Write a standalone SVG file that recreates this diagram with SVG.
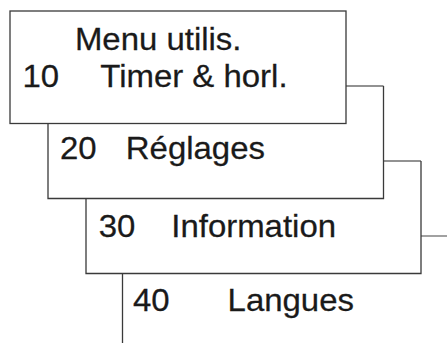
<svg xmlns="http://www.w3.org/2000/svg" width="447" height="345" viewBox="0 0 447 345">
  <style>
    .edge { fill: none; stroke: #3a3a3a; stroke-width: 1.3; }
    .step { fill: none; stroke: #6e6e6e; stroke-width: 1.3; }
    .t { font-family: "Liberation Sans", Arial, sans-serif; font-size: 30.5px; fill: #1a1a1a; stroke: #1a1a1a; stroke-width: 0.25; }
  </style>
  <rect width="447" height="345" fill="#fff"/>
  <g id="card-40">
    <path class="step" d="M421 236 H447"/>
    <path class="edge" d="M122.5 274 V343"/>
    <text class="t" transform="translate(133,310.5) scale(1.08,1)">40</text>
    <text class="t" transform="translate(227.6,310.5) scale(1.08,1)">Langues</text>
  </g>
  <g id="card-30">
    <path class="step" d="M383.5 161 H421"/>
    <path class="edge" d="M421 161 V273.5 H86 V199"/>
    <text class="t" transform="translate(98.7,237) scale(1.08,1)">30</text>
    <text class="t" transform="translate(171.3,237) scale(1.08,1)">Information</text>
  </g>
  <g id="card-20">
    <path class="step" d="M346 86 H383.5"/>
    <path class="edge" d="M383.5 86 V198.5 H48 V123.5"/>
    <text class="t" transform="translate(60,158.5) scale(1.08,1)">20</text>
    <text class="t" transform="translate(125.8,158.5) scale(1.08,1)">Réglages</text>
  </g>
  <g id="card-10">
    <rect class="edge" x="10" y="11" width="336" height="112.5" fill="#fff"/>
    <text class="t" transform="translate(74.9,49.8) scale(1.08,1)">Menu utilis.</text>
    <text class="t" transform="translate(22.5,86.8) scale(1.08,1)">10</text>
    <text class="t" transform="translate(100.3,86.8) scale(1.08,1)">Timer &amp; horl.</text>
  </g>
</svg>
